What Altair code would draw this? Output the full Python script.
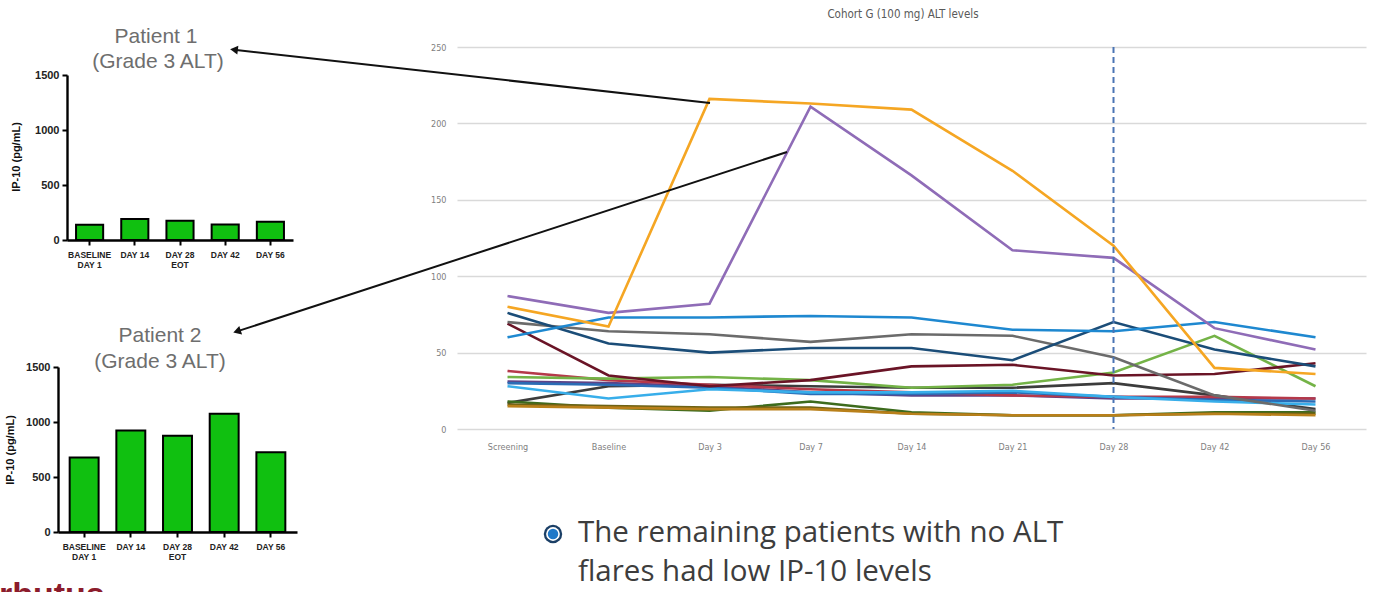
import altair as alt
import pandas as pd

W, H = 1375, 592

# ---------------- IP-10 bar charts ----------------
bar_days = ["BASELINE|DAY 1", "DAY 14", "DAY 28|EOT", "DAY 42", "DAY 56"]
patient1_ip10 = [138, 190, 176, 142, 167]
patient2_ip10 = [678, 922, 876, 1074, 724]
ip10_ticks = [0, 500, 1000, 1500]

# ---------------- ALT line chart ----------------
visits = ["Screening", "Baseline", "Day 3", "Day 7", "Day 14", "Day 21", "Day 28", "Day 42", "Day 56"]
alt_orange  = [80, 67, 216, 213, 209, 169, 120, 40, 36]
alt_purple  = [87, 76, 82, 211, 166, 117, 112, 66, 52]
alt_blue    = [60, 73, 73, 74, 73, 65, 64, 70, 60]
alt_grey    = [70, 64, 62, 57, 62, 61, 47, 22, 12]
alt_navy    = [76, 56, 50, 53, 53, 45, 70, 52, 41]
alt_maroon  = [69, 35, 28, 32, 41, 42, 35, 36, 43]
alt_red     = [38, 32, 29, 26, 24, 22, 21, 21, 20]
alt_green   = [34, 33, 34, 32, 27, 29, 37, 61, 28]
alt_black   = [17, 28, 29, 28, 27, 27, 30, 22, 13]
alt_violet  = [31, 30, 28, 24, 22, 22, 20, 20, 20]
alt_sky     = [28, 20, 26, 24, 24, 25, 21, 18, 16]
alt_midblue = [30, 29, 27, 23, 23, 24, 21, 19, 18]
alt_dkgreen = [18, 14, 12, 18, 11, 9, 9, 11, 11]
alt_olive   = [16, 15, 14, 14, 10, 9, 9, 10, 10]
alt_amber   = [15, 14, 13, 13, 10, 9, 9, 10, 9]
alt_ticks = [0, 50, 100, 150, 200, 250]
marker_visit = ["Day 28"]

series_names = ["black", "dkgreen", "olive", "amber", "violet", "red", "midblue", "sky", "green",
                "maroon", "grey", "navy", "blue", "purple", "orange"]
series_values = [alt_black, alt_dkgreen, alt_olive, alt_amber, alt_violet, alt_red, alt_midblue, alt_sky,
                 alt_green, alt_maroon, alt_grey, alt_navy, alt_blue, alt_purple, alt_orange]
series_colors = ["#3c3c3c", "#3d6b1d", "#6e6214", "#b9801a", "#5e4387", "#b5394a", "#2b6cb5", "#38aeea",
                 "#74b347", "#6a1426", "#6b6b6b", "#1b4d78", "#1e88d0", "#8f6cb7", "#f5a623"]

rows = []
for name, vals in zip(series_names, series_values):
    for i, (v, val) in enumerate(zip(visits, vals)):
        rows.append({"pid": name, "visit": v, "alt": val, "idx": i})
lines_df = pd.DataFrame(rows)

BAR_FONT = "Liberation Sans"
COND = "DejaVu Sans Condensed"


def bar_panel(values, x0, x1, y0, y1, p_in, p_out):
    df = pd.DataFrame({"day": bar_days, "ip10": values})
    return alt.Chart(df).mark_bar(color="#10c010", stroke="#000000", strokeWidth=2).encode(
        x=alt.X("day:N", title=None,
                scale=alt.Scale(domain=bar_days, range=[x0, x1], paddingInner=p_in, paddingOuter=p_out),
                axis=alt.Axis(orient="bottom", offset=y0 - H, domainColor="#000", domainWidth=2.4,
                              tickColor="#000", tickWidth=2, tickSize=5, labelPadding=5,
                              labelFont=BAR_FONT, labelFontWeight="bold", labelFontSize=8.5,
                              labelColor="#222", labelAngle=0, labelLineHeight=10,
                              labelExpr="split(datum.label, '|')", labelOverlap=False, grid=False)),
        y=alt.Y("ip10:Q", title=None,
                scale=alt.Scale(domain=[0, 1500], range=[y0, y1], nice=False, zero=True),
                axis=alt.Axis(orient="left", offset=-x0, values=ip10_ticks, format="d", grid=False,
                              domainColor="#000", domainWidth=2.4, tickColor="#000", tickWidth=2,
                              tickSize=5, labelPadding=3, labelFont=BAR_FONT, labelFontWeight="bold",
                              labelFontSize=11, labelColor="#222", labelOverlap=False)),
    )


p1 = bar_panel(patient1_ip10, 67, 293, 240, 75, 0.4, 0.2)
p2 = bar_panel(patient2_ip10, 58, 297, 532, 367, 0.38, 0.25)

x_line = alt.Scale(type="point", domain=visits, range=[457, 1366], padding=0.5)
y_line = alt.Scale(domain=[0, 250], range=[429, 47], nice=False)
x_axis_line = alt.Axis(orient="bottom", offset=429 - H, domain=False, ticks=False, labelPadding=13,
                       labelFont=COND, labelFontSize=9, labelColor="#808080", labelAngle=0,
                       labelOverlap=False, grid=False)

lines = alt.Chart(lines_df).mark_line(strokeWidth=2.6).encode(
    x=alt.X("visit:N", title=None, scale=x_line, axis=x_axis_line),
    y=alt.Y("alt:Q", title=None, scale=y_line,
            axis=alt.Axis(orient="left", offset=-457, values=alt_ticks, domain=False, ticks=False,
                          labelPadding=11, labelFont=COND, labelFontSize=9, labelColor="#808080",
                          grid=True, gridColor="#d9d9d9", gridWidth=1.5)),
    color=alt.Color("pid:N", scale=alt.Scale(domain=series_names, range=series_colors), legend=None),
    order=alt.Order("idx:Q"),
)

marker = alt.Chart(pd.DataFrame({"visit": marker_visit})).mark_rule(
    color="#4a74b4", strokeDash=[6, 4], strokeWidth=2
).encode(
    x=alt.X("visit:N", title=None, scale=x_line, axis=x_axis_line),
    y=alt.datum(250, scale=y_line),
    y2=alt.datum(0),
)

line_panel = alt.layer(lines, marker)

one = pd.DataFrame({"k": [0]})


def txt(s, x, y, size, color, font, weight="normal", align="center", angle=0, baseline="middle"):
    return alt.Chart(one).mark_text(
        text=s, fontSize=size, color=color, font=font, fontWeight=weight, align=align,
        angle=angle, baseline=baseline
    ).encode(x=alt.value(x), y=alt.value(y))


def arrow(x_tail, y_tail, head_x, head_y, head_angle):
    shaft = alt.Chart(one).mark_rule(color="#111", strokeWidth=2).encode(
        x=alt.value(x_tail), y=alt.value(y_tail), x2=alt.value(head_x), y2=alt.value(head_y))
    head = alt.Chart(one).mark_point(shape="triangle-left", filled=True, color="#111", size=80,
                                     angle=head_angle, opacity=1).encode(
        x=alt.value(head_x), y=alt.value(head_y))
    return [shaft, head]


notes = [
    txt("Patient 1", 156, 37, 21, "#6e6e6e", BAR_FONT),
    txt("(Grade 3 ALT)", 158, 62, 21, "#6e6e6e", BAR_FONT),
    txt("Patient 2", 160, 336, 21, "#6e6e6e", BAR_FONT),
    txt("(Grade 3 ALT)", 160, 362, 21, "#6e6e6e", BAR_FONT),
    txt("IP-10 (pg/mL)", 17, 157, 11, "#111", BAR_FONT, weight="bold", angle=270),
    txt("IP-10 (pg/mL)", 11, 450, 11, "#111", BAR_FONT, weight="bold", angle=270),
    txt("Cohort G (100 mg) ALT levels", 903, 15, 11.5, "#595959", COND),
    txt("The remaining patients with no ALT", 578, 533, 29.5, "#3d3d3d", "Open Sans", align="left"),
    txt("flares had low IP-10 levels", 578, 572, 29.5, "#3d3d3d", "Open Sans", align="left"),
    txt("rbutus", -1, 579, 34, "#8c1c2c", BAR_FONT, weight="bold", align="left", baseline="top"),
]
notes += arrow(710, 103, 234, 49.7, 6.65)
notes += arrow(787, 152, 237, 331.4, 341.9)

bullet = [
    alt.Chart(one).mark_point(shape="circle", filled=True, color="#1b3f66", size=340, opacity=1).encode(
        x=alt.value(553), y=alt.value(534)),
    alt.Chart(one).mark_point(shape="circle", filled=True, color="#ffffff", size=190, opacity=1).encode(
        x=alt.value(553), y=alt.value(534)),
    alt.Chart(one).mark_point(shape="circle", filled=True, color="#1f78c8", size=110, opacity=1).encode(
        x=alt.value(553), y=alt.value(534)),
]

chart = alt.layer(p1, p2, line_panel, *notes, *bullet).resolve_scale(
    x="independent", y="independent", color="independent"
).resolve_axis(
    x="independent", y="independent"
).properties(
    width=W, height=H, autosize=alt.AutoSizeParams(type="none"), padding=0, background="white"
).configure_view(stroke=None)

chart.save("out.html", embed_options={"renderer": "svg", "actions": False})
